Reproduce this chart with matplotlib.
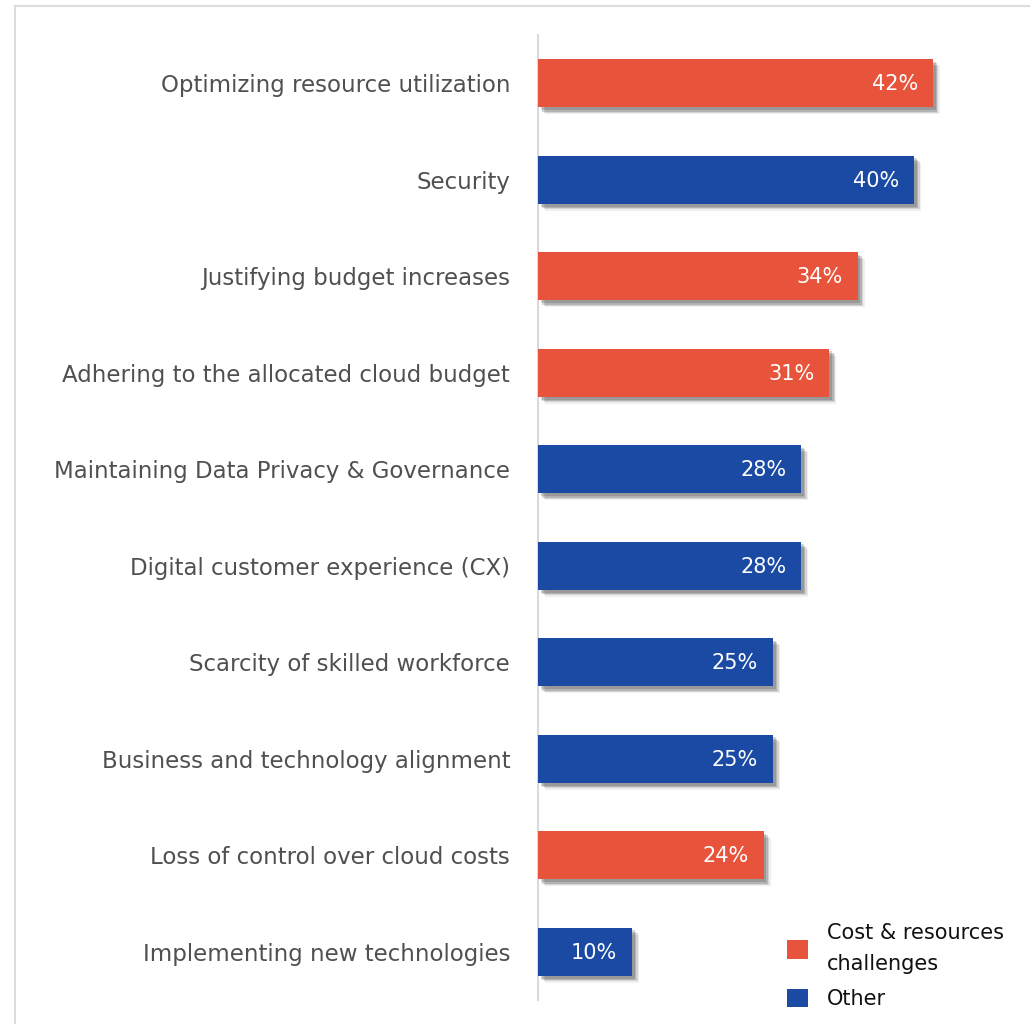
import matplotlib.pyplot as plt
from matplotlib.patches import Patch
from matplotlib.lines import Line2D
import matplotlib.patheffects as pe

categories = [
    "Optimizing resource utilization",
    "Security",
    "Justifying budget increases",
    "Adhering to the allocated cloud budget",
    "Maintaining Data Privacy & Governance",
    "Digital customer experience (CX)",
    "Scarcity of skilled workforce",
    "Business and technology alignment",
    "Loss of control over cloud costs",
    "Implementing new technologies",
]
values = [42, 40, 34, 31, 28, 28, 25, 25, 24, 10]
groups = ["cost", "other", "cost", "cost", "other", "other", "other", "other", "cost", "other"]

colors = {"cost": "#E8543B", "other": "#1B4AA5"}
legend_labels = {"cost": "Cost & resources\nchallenges", "other": "Other"}

plt.rcParams['font.family'] = ['DejaVu Sans']

W, H = 1030, 1024
fig = plt.figure(figsize=(W / 100, H / 100), dpi=100)
ax = fig.add_axes([538 / W, 24 / H, 470 / W, 965 / H])

ypos = list(range(len(categories)))
# soft drop shadow built from a few stacked translucent offsets
shadow = [pe.SimplePatchShadow(offset=(d, -d), shadow_rgbFace="#333333", alpha=a)
          for d, a in [(5, 0.08), (4, 0.14), (3, 0.2), (2, 0.2)]] + [pe.Normal()]
bars = ax.barh(ypos, values, height=0.5, color=[colors[g] for g in groups], zorder=3)
for b in bars:
    b.set_path_effects(shadow)

for y, v in zip(ypos, values):
    ax.text(v - 1.6, y + 0.01, f"{v}%", ha="right", va="center", color="white", fontsize=15, zorder=4)

ax.set_ylim(len(categories) - 0.5, -0.5)
ax.set_xlim(0, 50)
ax.set_yticks(ypos)
ax.set_yticklabels(categories, fontsize=16.5, color="#505050")
ax.tick_params(axis="y", length=0, pad=20)
ax.set_xticks([])
for s in ["top", "right", "bottom"]:
    ax.spines[s].set_visible(False)
ax.spines["left"].set_color("#d9d9d9")
ax.spines["left"].set_linewidth(1.5)

# outer frame lines
fig.add_artist(Line2D([15 / W, 1], [1 - 6 / H, 1 - 6 / H], color="#dddddd", lw=1.5))
fig.add_artist(Line2D([15 / W, 15 / W], [0, 1 - 6 / H], color="#dddddd", lw=1.5))

handles = [Patch(facecolor=colors[k], edgecolor="none") for k in ["cost", "other"]]
leg = fig.legend(handles, [legend_labels[k] for k in ["cost", "other"]],
                 loc="lower left", bbox_to_anchor=(768 / W, -4 / H), frameon=False,
                 fontsize=15, labelcolor="#111111", handlelength=1.0, handleheight=1.0,
                 handletextpad=0.95, labelspacing=0.7)
for t in leg.get_texts():
    t.set_linespacing(1.7)

fig.savefig("out.png", dpi=100)
